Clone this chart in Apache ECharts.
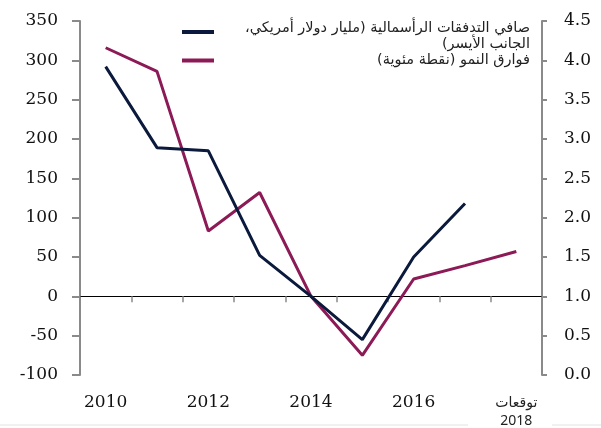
<!DOCTYPE html>
<html>
<head>
<meta charset="utf-8">
<script src="https://cdn.jsdelivr.net/npm/echarts@6/dist/echarts.min.js"></script>
<style>
  html, body { margin: 0; padding: 0; background: #fff; }
  #chart { width: 601px; height: 428px; }
</style>
</head>
<body>
<div id="chart"></div>
<script>
const years = ['2010', '2011', '2012', '2013', '2014', '2015', '2016', '2017', '2018'];
// billions USD, left axis (no value for 2018)
const netFlows = [292, 189, 185, 52, 0, -55, 50, 118, null];
// percentage points, right axis
const growthGap = [4.16, 3.86, 1.83, 2.32, 1.0, 0.25, 1.22, 1.39, 1.57];

const flowsName = 'صافي التدفقات الرأسمالية (مليار دولار أمريكي، الجانب الأيسر)';
const gapName = 'فوارق النمو (نقطة مئوية)';
const flowsLines = ['صافي التدفقات الرأسمالية (مليار دولار أمريكي،', 'الجانب الأيسر)'];
const gapLines = ['فوارق النمو (نقطة مئوية)'];
const forecastWord = 'توقعات';

const navy = '#0b1a3c';
const maroon = '#8c1a56';
const grey = '#8a8a8a';
const serif = 'DejaVu Serif';
const arabic = 'DejaVu Sans';

const rtl = s => '\u202B' + s + '\u202C';

function legendFor(name, lines, top, spacer) {
    return {
        data: [name],
        orient: 'vertical',
        left: 182,
        top: top,
        padding: 0,
        icon: 'rect',
        itemWidth: 32,
        itemHeight: 4,
        selectedMode: false,
        formatter: () => (spacer ? '{s| }\n' : '') + lines.map(l => '{t|' + rtl(l) + '}').join('\n'),
        textStyle: {
            rich: {
                s: { height: 9, lineHeight: 9, fontSize: 9 },
                t: { width: 311, align: 'right', fontSize: 14.5, lineHeight: 16, fontFamily: arabic, color: '#222' }
            }
        }
    };
}

const chart = echarts.init(document.getElementById('chart'));
chart.setOption({
    animation: false,
    legend: [
        legendFor(flowsName, flowsLines, 11.5, true),
        legendFor(gapName, gapLines, 53, false)
    ],
    grid: { left: 80, right: 59, top: 21, bottom: 53 },
    xAxis: [
        {
            type: 'category',
            data: years,
            axisLine: { onZero: true, onZeroAxisIndex: 0, lineStyle: { color: '#000', width: 1 } },
            axisTick: { show: true, length: 6, lineStyle: { color: grey, width: 1.5 } },
            axisLabel: { show: false }
        },
        {
            type: 'category',
            data: years,
            position: 'bottom',
            axisLine: { show: false, onZero: false },
            axisTick: { show: false },
            axisLabel: {
                interval: 1,
                margin: 19,
                fontFamily: serif,
                fontSize: 17,
                color: '#111',
                formatter: v => v === '2018' ? '{f|' + forecastWord + '}\n{y|2018}' : v,
                rich: {
                    f: { fontFamily: arabic, fontSize: 14, lineHeight: 18, color: '#222' },
                    y: { fontFamily: 'Noto Sans', fontSize: 14, lineHeight: 18, color: '#222' }
                }
            }
        }
    ],
    yAxis: [
        {
            type: 'value',
            min: -100,
            max: 350,
            interval: 50,
            splitLine: { show: false },
            axisLine: { show: true, lineStyle: { color: grey, width: 2 } },
            axisTick: { show: true, length: 8, lineStyle: { color: grey, width: 2 } },
            axisLabel: { margin: 22, fontFamily: serif, fontSize: 17, color: '#111' }
        },
        {
            type: 'value',
            min: 0,
            max: 4.5,
            interval: 0.5,
            splitLine: { show: false },
            axisLine: { show: true, lineStyle: { color: grey, width: 2 } },
            axisTick: { show: true, length: 5, lineStyle: { color: grey, width: 2 } },
            axisLabel: { margin: 22, fontFamily: serif, fontSize: 17, color: '#111', formatter: v => v.toFixed(1) }
        }
    ],
    graphic: [
        { type: 'line', shape: { x1: 0, y1: 425, x2: 468, y2: 425 }, style: { stroke: '#e2e2e2', lineWidth: 1 }, silent: true },
        { type: 'line', shape: { x1: 552, y1: 425, x2: 601, y2: 425 }, style: { stroke: '#e2e2e2', lineWidth: 1 }, silent: true }
    ],
    series: [
        {
            name: flowsName,
            type: 'line',
            yAxisIndex: 0,
            data: netFlows,
            symbol: 'none',
            lineStyle: { color: navy, width: 3 },
            itemStyle: { color: navy },
            z: 3
        },
        {
            name: gapName,
            type: 'line',
            yAxisIndex: 1,
            data: growthGap,
            symbol: 'none',
            lineStyle: { color: maroon, width: 3 },
            itemStyle: { color: maroon },
            z: 2
        }
    ]
});
</script>
</body>
</html>
